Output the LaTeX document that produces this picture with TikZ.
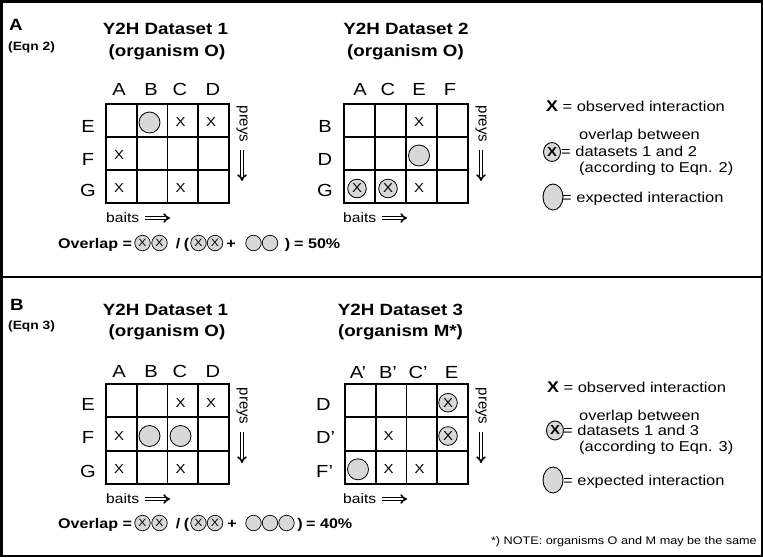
\documentclass[tikz,border=0pt]{standalone}
\usepackage{fontspec}
\setmainfont{Liberation Sans}[FakeStretch=1.15]
\newfontfamily\uprightsf{Liberation Sans}
\usepackage{xcolor}
\usetikzlibrary{arrows.meta,shapes.geometric}
\definecolor{markgray}{RGB}{216,216,216}

\begin{document}
\begin{tikzpicture}[x=1pt,y=-1pt,
  gridln/.style={line width=1.7pt},
  obs/.style={inner sep=0pt,font=\fontsize{13}{13}\selectfont},
  expct/.style={circle,draw,line width=0.8pt,fill=markgray,minimum size=21pt,inner sep=0pt},
  ovlp/.style={circle,draw,line width=0.8pt,fill=markgray,minimum size=18.6pt,inner sep=0pt,font=\fontsize{13}{13}\selectfont},
  smexp/.style={circle,draw,line width=0.7pt,fill=markgray,minimum size=15.5pt,inner sep=0pt},
  smovl/.style={smexp,font=\fontsize{10.5}{10.5}\selectfont},
  hdr/.style={anchor=base,inner sep=0pt,font=\fontsize{17.5}{17.5}\selectfont},
  ttl/.style={anchor=base,inner sep=0pt,font=\bfseries\fontsize{16.3}{16.3}\selectfont},
  lgd/.style={anchor=base west,inner sep=0pt,font=\fontsize{14.3}{14.3}\selectfont},
  frm/.style={anchor=base,inner sep=0pt,font=\bfseries\fontsize{14}{14}\selectfont},
  axlbl/.style={anchor=base west,inner sep=0pt,font=\fontsize{13.6}{13.6}\selectfont},
  preylbl/.style={rotate=-90,inner sep=0pt,font=\uprightsf\fontsize{15}{15}\selectfont},
  dblarrow/.style={double=white,double distance=1.4pt,line width=1.6pt,-{Implies}}]
  \useasboundingbox (0,0) rectangle (763,557);
  \draw[line width=2.5pt] (1.25,1.25) rectangle (761.75,555.75);
  \draw[line width=2pt] (0,277) -- (763,277);

  \node[anchor=base west,inner sep=0pt,font=\bfseries\fontsize{16.3}{16.3}\selectfont] (pnlA) at (9,30) {A};
  \node[anchor=base west,inner sep=0pt,font=\bfseries\fontsize{12}{12}\selectfont] (eqnA) at (8,50) {(Eqn 2)};
  \node[anchor=base west,inner sep=0pt,font=\bfseries\fontsize{16.3}{16.3}\selectfont] (pnlB) at (10,310) {B};
  \node[anchor=base west,inner sep=0pt,font=\bfseries\fontsize{12}{12}\selectfont] (eqnB) at (8,329) {(Eqn 3)};

  \node[ttl] (ttlAoneA) at (165.5,34.5) {Y2H Dataset 1};
  \node[ttl] (ttlAoneB) at (167,56) {(organism O)};
  \node[ttl] (ttlAtwoA) at (406,34.5) {Y2H Dataset 2};
  \node[ttl] (ttlAtwoB) at (405.5,56) {(organism O)};
  \node[ttl] (ttlBoneA) at (165.5,315) {Y2H Dataset 1};
  \node[ttl] (ttlBoneB) at (167,336) {(organism O)};
  \node[ttl] (ttlBthrA) at (400.5,315) {Y2H Dataset 3};
  \node[ttl] (ttlBthrB) at (400.5,336) {(organism M*)};

  \draw[gridln] (106,104) rectangle (229,203);
  \draw[gridln] (136.75,104) -- (136.75,203) (167.5,104) -- (167.5,203) (198.25,104) -- (198.25,203);
  \draw[gridln] (106,137) -- (229,137) (106,170) -- (229,170);
  \node[hdr] (cAoneA) at (119,95) {A};
  \node[hdr] (cAoneB) at (151,95) {B};
  \node[hdr] (cAoneC) at (180,95) {C};
  \node[hdr] (cAoneD) at (213,95) {D};
  \node[hdr] (rAoneE) at (88,132) {E};
  \node[hdr] (rAoneF) at (88,165) {F};
  \node[hdr] (rAoneG) at (88,196) {G};
  \node[expct] (mAoneEB) at (149.5,122.5) {};
  \node[obs] (mAoneEC) at (180.5,122.5) {X};
  \node[obs] (mAoneED) at (211,122.5) {X};
  \node[obs] (mAoneFA) at (119,155.5) {X};
  \node[obs] (mAoneGA) at (119,188.5) {X};
  \node[obs] (mAoneGC) at (180.5,188.5) {X};
  \node[preylbl] (prAone) at (242,124) {preys};
  \coordinate (prAoneS) at (242,150); \coordinate (prAoneE) at (242,181);
  \draw[dblarrow] (prAoneS) -- (prAoneE);
  \node[axlbl] (baAone) at (106,222) {baits};
  \coordinate (baAoneS) at (145,218); \coordinate (baAoneE) at (170,218);
  \draw[dblarrow] (baAoneS) -- (baAoneE);

  \draw[gridln] (344,104) rectangle (468,203);
  \draw[gridln] (375,104) -- (375,203) (406,104) -- (406,203) (437,104) -- (437,203);
  \draw[gridln] (344,137) -- (468,137) (344,170) -- (468,170);
  \node[hdr] (cAtwoA) at (360,95) {A};
  \node[hdr] (cAtwoC) at (388,95) {C};
  \node[hdr] (cAtwoE) at (419,95) {E};
  \node[hdr] (cAtwoF) at (450,95) {F};
  \node[hdr] (rAtwoB) at (325,132) {B};
  \node[hdr] (rAtwoD) at (325,165) {D};
  \node[hdr] (rAtwoG) at (325,196) {G};
  \node[obs] (mAtwoBE) at (419,122.5) {X};
  \node[expct] (mAtwoDE) at (419,155.5) {};
  \node[ovlp] (mAtwoGA) at (357,188.5) {X};
  \node[ovlp] (mAtwoGC) at (388,188.5) {X};
  \node[obs] (mAtwoGE) at (419,188.5) {X};
  \node[preylbl] (prAtwo) at (481,124) {preys};
  \coordinate (prAtwoS) at (481,150); \coordinate (prAtwoE) at (481,181);
  \draw[dblarrow] (prAtwoS) -- (prAtwoE);
  \node[axlbl] (baAtwo) at (343,222) {baits};
  \coordinate (baAtwoS) at (382,218); \coordinate (baAtwoE) at (407,218);
  \draw[dblarrow] (baAtwoS) -- (baAtwoE);

  \node[lgd] (lgAobs) at (546,111) {{\bfseries\fontsize{15.5}{15.5}\selectfont X} = observed interaction};
  \node[lgd] (lgAovlA) at (579,139.5) {overlap between};
  \node[ellipse,draw,line width=0.9pt,fill=markgray,minimum width=17pt,minimum height=19pt,inner sep=0pt,font=\bfseries\fontsize{13}{13}\selectfont] (lgAovlS) at (552,152) {X};
  \node[lgd] (lgAovlB) at (561,156) {= datasets 1 and 2};
  \node[lgd] (lgAovlC) at (579,172.5) {(according to Eqn. 2)};
  \node[ellipse,draw,line width=0.9pt,fill=markgray,minimum width=20pt,minimum height=26pt,inner sep=0pt] (lgAexpS) at (553,197) {};
  \node[lgd] (lgAexp) at (562,202.5) {= expected interaction};

  \node[frm,anchor=base west] (fmAlbl) at (58,248) {Overlap =};
  \node[smovl] (fmAo1) at (142.5,243) {X};
  \node[smovl] (fmAo2) at (159.5,243) {X};
  \node[frm] (fmAsl) at (178,248) {/};
  \node[frm] (fmAlp) at (186.5,248) {(};
  \node[smovl] (fmAo3) at (198.5,243) {X};
  \node[smovl] (fmAo4) at (215,243) {X};
  \node[frm] (fmAps) at (231,248) {+};
  \node[smexp] (fmAe1) at (253.5,243) {};
  \node[smexp] (fmAe2) at (270,243) {};
  \node[frm] (fmArp) at (287.5,248) {)};
  \node[frm,anchor=base west] (fmAres) at (294,248) {= 50\%};

  \draw[gridln] (106,384) rectangle (229,484);
  \draw[gridln] (136.75,384) -- (136.75,484) (167.5,384) -- (167.5,484) (198.25,384) -- (198.25,484);
  \draw[gridln] (106,417.3) -- (229,417.3) (106,450.7) -- (229,450.7);
  \node[hdr] (cBoneA) at (119,377) {A};
  \node[hdr] (cBoneB) at (151,377) {B};
  \node[hdr] (cBoneC) at (180,377) {C};
  \node[hdr] (cBoneD) at (213,377) {D};
  \node[hdr] (rBoneE) at (88,410) {E};
  \node[hdr] (rBoneF) at (88,443.5) {F};
  \node[hdr] (rBoneG) at (88,477) {G};
  \node[obs] (mBoneEC) at (180.5,402.7) {X};
  \node[obs] (mBoneED) at (211,402.7) {X};
  \node[obs] (mBoneFA) at (119,436) {X};
  \node[expct] (mBoneFB) at (149.5,436) {};
  \node[expct] (mBoneFC) at (180.5,436) {};
  \node[obs] (mBoneGA) at (119,469.3) {X};
  \node[obs] (mBoneGC) at (180.5,469.3) {X};
  \node[preylbl] (prBone) at (242,406) {preys};
  \coordinate (prBoneS) at (242,432); \coordinate (prBoneE) at (242,463);
  \draw[dblarrow] (prBoneS) -- (prBoneE);
  \node[axlbl] (baBone) at (106,503) {baits};
  \coordinate (baBoneS) at (145,499); \coordinate (baBoneE) at (170,499);
  \draw[dblarrow] (baBoneS) -- (baBoneE);

  \draw[gridln] (345,384) rectangle (468,484);
  \draw[gridln] (375.75,384) -- (375.75,484) (406.5,384) -- (406.5,484) (437.25,384) -- (437.25,484);
  \draw[gridln] (345,417.3) -- (468,417.3) (345,450.7) -- (468,450.7);
  \node[hdr] (cBthrA) at (358,378) {A'};
  \node[hdr] (cBthrB) at (388,378) {B'};
  \node[hdr] (cBthrC) at (418,378) {C'};
  \node[hdr] (cBthrE) at (451.5,378) {E};
  \node[hdr,anchor=base west] (rBthrD) at (316,410) {D};
  \node[hdr,anchor=base west] (rBthrDp) at (316,443.5) {D'};
  \node[hdr,anchor=base west] (rBthrFp) at (316,477) {F'};
  \node[ovlp] (mBthrDE) at (448,402.7) {X};
  \node[obs] (mBthrDpB) at (388.5,436) {X};
  \node[ovlp] (mBthrDpE) at (448,436) {X};
  \node[expct] (mBthrFpA) at (358,469.3) {};
  \node[obs] (mBthrFpB) at (388.5,469.3) {X};
  \node[obs] (mBthrFpC) at (419.5,469.3) {X};
  \node[preylbl] (prBthr) at (481,406) {preys};
  \coordinate (prBthrS) at (481,432); \coordinate (prBthrE) at (481,463);
  \draw[dblarrow] (prBthrS) -- (prBthrE);
  \node[axlbl] (baBthr) at (343,503) {baits};
  \coordinate (baBthrS) at (382,499); \coordinate (baBthrE) at (407,499);
  \draw[dblarrow] (baBthrS) -- (baBthrE);

  \node[lgd] (lgBobs) at (547,392) {{\bfseries\fontsize{15.5}{15.5}\selectfont X} = observed interaction};
  \node[lgd] (lgBovlA) at (579,420) {overlap between};
  \node[ellipse,draw,line width=0.9pt,fill=markgray,minimum width=17pt,minimum height=19pt,inner sep=0pt,font=\bfseries\fontsize{13}{13}\selectfont] (lgBovlS) at (555,430.5) {X};
  \node[lgd] (lgBovlB) at (563,435) {= datasets 1 and 3};
  \node[lgd] (lgBovlC) at (579,451.5) {(according to Eqn. 3)};
  \node[ellipse,draw,line width=0.9pt,fill=markgray,minimum width=20pt,minimum height=26pt,inner sep=0pt] (lgBexpS) at (553,480) {};
  \node[lgd] (lgBexp) at (563,485) {= expected interaction};

  \node[frm,anchor=base west] (fmBlbl) at (58,528) {Overlap =};
  \node[smovl] (fmBo1) at (142.5,523) {X};
  \node[smovl] (fmBo2) at (159.5,523) {X};
  \node[frm] (fmBsl) at (178,528) {/};
  \node[frm] (fmBlp) at (186.5,528) {(};
  \node[smovl] (fmBo3) at (198.5,523) {X};
  \node[smovl] (fmBo4) at (215,523) {X};
  \node[frm] (fmBps) at (232,528) {+};
  \node[smexp] (fmBe1) at (253.5,523) {};
  \node[smexp] (fmBe2) at (270,523) {};
  \node[smexp] (fmBe3) at (286.5,523) {};
  \node[frm] (fmBrp) at (300,528) {)};
  \node[frm,anchor=base west] (fmBres) at (306,528) {= 40\%};

  \node[anchor=base east,inner sep=0pt,font=\fontsize{11}{11}\selectfont] (note) at (757,544) {*) NOTE: organisms O and M may be the same};
\end{tikzpicture}
\end{document}
